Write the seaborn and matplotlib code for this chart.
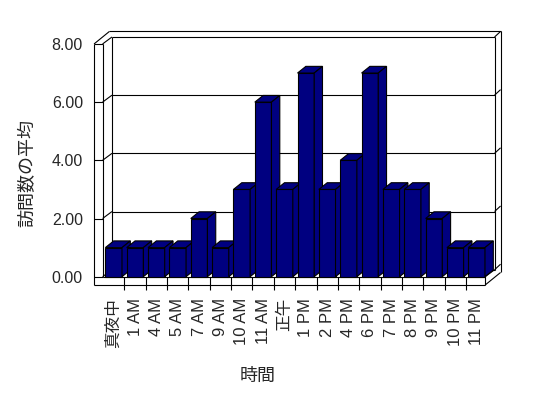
#!/usr/bin/env python
# -*- coding: utf-8 -*-

"""Average number of visits per hour, drawn in the old 3D column style."""

import matplotlib
matplotlib.use("Agg")
import matplotlib.pyplot as plt
from matplotlib.patches import Polygon
import seaborn as sns

# %% Data

hours = ["真夜中", "1 AM", "4 AM", "5 AM", "7 AM", "9 AM", "10 AM", "11 AM",
         "正午", "1 PM", "2 PM", "4 PM", "6 PM", "7 PM", "8 PM", "9 PM",
         "10 PM", "11 PM"]
visits = [1, 1, 1, 1, 2, 1, 3, 6, 3, 7, 3, 4, 7, 3, 3, 2, 1, 1]
y_ticks = [0, 2, 4, 6, 8]

# %% Style

sns.set_style("white")
plt.rcParams["font.family"] = ["Liberation Sans", "Noto Sans CJK JP"]

NAVY = "#000080"
LW = 0.8
# depth offsets in data units (x per category, y per value)
BX, BY = 0.39, 0.23      # bar depth
GX, GY = 0.44, 0.24      # back wall (grid) depth
OX, OY = 0.72, 0.43      # outer frame depth
WALL_L, WALL_R = -0.92, -0.52   # left wall front face
FLOOR = -0.285                  # floor front face bottom
n = len(hours)
x_end = n - 0.6                 # right end of floor front face

fig = plt.figure(figsize=(5.48, 3.98), dpi=100)
ax = fig.add_axes([0.1716, 0.2719, 0.7430, 0.6542])

sns.barplot(x=hours, y=visits, color=NAVY, saturation=1, width=0.78,
            edgecolor="black", linewidth=LW, ax=ax)

# 3D look: top and side face of every bar
for i, bar in enumerate(list(ax.patches)):
    x0, h = bar.get_x(), bar.get_height()
    x1 = x0 + bar.get_width()
    bar.set_zorder(10 + i)
    top = Polygon([(x0, h), (x1, h), (x1 + BX, h + BY), (x0 + BX, h + BY)],
                  facecolor=NAVY, edgecolor="black", lw=LW, zorder=10 + i)
    side = Polygon([(x1, 0), (x1 + BX, BY), (x1 + BX, h + BY), (x1, h)],
                   facecolor=NAVY, edgecolor="black", lw=LW, zorder=10 + i)
    ax.add_patch(top)
    ax.add_patch(side)

kw = dict(color="black", lw=LW, zorder=2, clip_on=False, solid_capstyle="butt")
top_v = y_ticks[-1]
back_l, back_r = WALL_R + GX, x_end + GX
out_r, out_t = x_end + OX, top_v + OY

# gridlines on the back wall, with their run over the left wall
for v in y_ticks:
    ax.plot([back_l, back_r], [v + GY, v + GY], **kw)
    ax.plot([WALL_R, back_l], [v, v + GY], **kw)
    ax.plot([back_r, out_r], [v + GY, v + OY], **kw)
    ax.plot([WALL_L, WALL_R], [v, v], **kw)

# left wall
ax.plot([WALL_L, WALL_L], [FLOOR, top_v], **kw)
ax.plot([WALL_R, WALL_R], [0, top_v], **kw)
ax.plot([WALL_L, WALL_L + OX], [top_v, out_t], **kw)
ax.plot([back_l, back_l], [GY, top_v + GY], **kw)

# back wall frame
ax.plot([WALL_L + OX, out_r], [out_t, out_t], **kw)
ax.plot([out_r, out_r], [FLOOR + OY, out_t], **kw)
ax.plot([back_r, back_r], [GY, top_v + GY], **kw)

# floor
ax.plot([WALL_L, x_end], [FLOOR, FLOOR], **kw)
ax.plot([WALL_R, x_end], [0, 0], **kw)
ax.plot([x_end, x_end], [FLOOR, 0], **kw)
ax.plot([x_end, back_r], [0, GY], **kw)
ax.plot([x_end, out_r], [FLOOR, FLOOR + OY], **kw)
for i in range(n - 1):
    ax.plot([i + 0.5, i + 0.5], [0, -0.45], **kw)

# %% Axes

ax.set_xlim(-0.92, 18.15)
ax.set_ylim(-0.45, 8.5)
ax.set_yticks(y_ticks)
ax.set_yticklabels([f"{v:.2f}" for v in y_ticks])
ax.tick_params(axis="y", length=0, pad=8, labelsize=11.5)
ax.tick_params(axis="x", length=0, pad=6, labelsize=12, rotation=90)
sns.despine(ax=ax, left=True, bottom=True)

ax.set_xlabel("時間", fontsize=13)
ax.xaxis.set_label_coords(0.4027, -0.332)
ax.xaxis.label.set_va("center")
ax.set_ylabel("訪問数の平均", fontsize=13)
ax.yaxis.set_label_coords(-0.1623, 0.4485)
ax.yaxis.label.set_va("center")

fig.savefig("out.png", dpi=100)
